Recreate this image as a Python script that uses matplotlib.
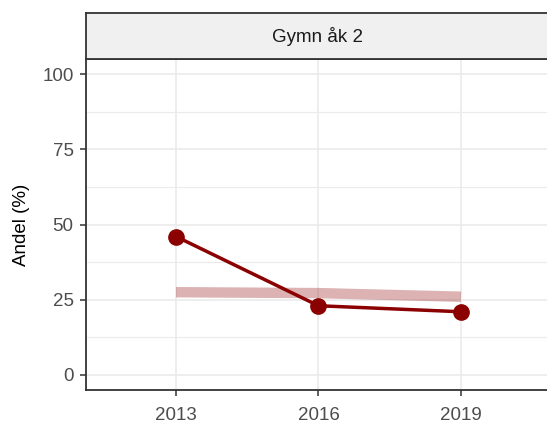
import numpy as np
import matplotlib.pyplot as plt
from matplotlib.ticker import MultipleLocator

years = ["2013", "2016", "2019"]
andel = [46, 23, 21]
referens = [27.5, 27.2, 26]
panel_title = "Gymn åk 2"

W, H = 547, 425
fig = plt.figure(figsize=(W / 100, H / 100), dpi=100)
plt.rcParams["font.family"] = ["Liberation Sans", "DejaVu Sans"]

# panel + strip placed in pixel coords
x0, x1 = 86, 548
y_top, y_strip, y_bot = 13, 59, 390
ax = fig.add_axes([x0 / W, 1 - y_bot / H, (x1 - x0) / W, (y_bot - y_strip) / H])
sx = fig.add_axes([x0 / W, 1 - y_strip / H, (x1 - x0) / W, (y_strip - y_top) / H])

x = np.arange(len(years))
grid_c = "#EBEBEB"
ax.set_ylim(-5, 105)
unit = (461 - 176) / 2
ax.set_xlim(-(176 - x0) / unit, 2 + (x1 - 461) / unit)
ax.yaxis.set_major_locator(MultipleLocator(25))
ax.yaxis.set_minor_locator(MultipleLocator(12.5))
ax.grid(True, which="major", color=grid_c, lw=1.2)
ax.grid(True, which="minor", axis="y", color=grid_c, lw=0.8)
ax.set_axisbelow(True)

ax.plot(x, referens, color="#8B0000", alpha=0.3, lw=7.5, solid_capstyle="butt", zorder=2)
ax.plot(x, andel, color="#8B0000", lw=2.5, marker="o", ms=11, zorder=3)

ax.set_xticks(x)
ax.set_xticklabels(years)
ax.tick_params(axis="both", which="major", colors="#333333", labelcolor="#4D4D4D",
               labelsize=13.5, length=4, width=1.1, pad=5)
ax.tick_params(axis="x", which="major", pad=8)
ax.tick_params(axis="y", which="minor", length=0)
ax.set_ylabel("Andel (%)", fontsize=13.5, color="black", labelpad=9)
for s in ax.spines.values():
    s.set_color("#333333")
    s.set_linewidth(1.3)

sx.set_facecolor("#F0F0F0")
sx.set_xticks([]); sx.set_yticks([])
for s in sx.spines.values():
    s.set_color("#333333")
    s.set_linewidth(1.3)
sx.text((318 - x0) / (x1 - x0), 0.5, panel_title,
        transform=sx.transAxes, ha="center", va="center", fontsize=13.5, color="#1A1A1A")

fig.savefig("out.png", dpi=100)
